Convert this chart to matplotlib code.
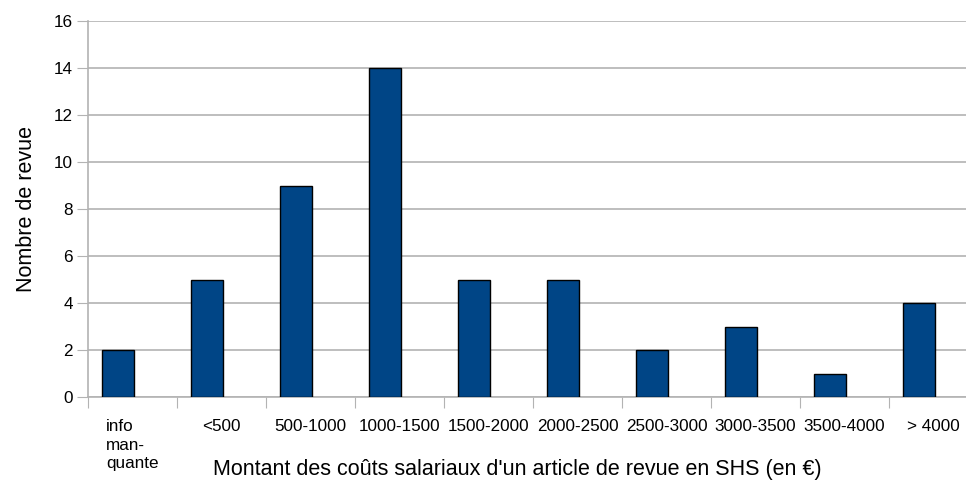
"""Nombre de revues par tranche de coûts salariaux d'un article."""

import matplotlib
import matplotlib.pyplot as plt

matplotlib.use("Agg")

categories = ["info\nman-\nquante", "<500", "500-1000", "1000-1500",
              "1500-2000", "2000-2500", "2500-3000", "3000-3500",
              "3500-4000", "> 4000"]
counts = [2, 5, 9, 14, 5, 5, 2, 3, 1, 4]
y_ticks = [0, 2, 4, 6, 8, 10, 12, 14, 16]

plt.rcParams["font.family"] = ["Liberation Sans", "DejaVu Sans"]

figure = plt.figure(figsize=(9.66, 4.84), dpi=100)
# the plot area runs a little past the right edge of the picture
axis = figure.add_axes([88 / 966, 87 / 484, 890 / 966, 376 / 484])

positions = [i - 0.163 for i in range(len(counts))]
axis.bar(positions, counts, width=0.36, color="#004586",
         edgecolor="black", linewidth=1.0, zorder=3)

axis.set_xlim(-0.5, len(counts) - 0.5)
axis.set_ylim(0, 16)
axis.set_yticks(y_ticks)
axis.yaxis.grid(True, color="#b3b3b3", linewidth=1.2, zorder=0)

axis.set_xticks([i + 0.5 for i in range(-1, len(counts))])
axis.set_xticklabels([])
axis.set_xticks(range(len(counts)), minor=True)
axis.set_xticklabels(categories, minor=True, fontsize=12.3,
                     multialignment="left", va="top", linespacing=1.3)
axis.tick_params(axis="x", which="minor", length=0, pad=16)
axis.tick_params(axis="x", which="major", length=8, color="#b3b3b3")
axis.tick_params(axis="y", length=8, color="#b3b3b3", labelsize=12.3, pad=3)

for name in ("top", "right"):
    axis.spines[name].set_visible(False)
for name in ("left", "bottom"):
    axis.spines[name].set_color("#b3b3b3")
    axis.spines[name].set_linewidth(1.2)

axis.set_ylabel("Nombre de revue", fontsize=15.5, labelpad=12)
figure.text(517 / 966, 1 - 470 / 484,
            "Montant des coûts salariaux d'un article de revue en SHS (en €)",
            fontsize=15.5, ha="center", va="center")

figure.savefig("out.png", dpi=100)
plt.close(figure)
